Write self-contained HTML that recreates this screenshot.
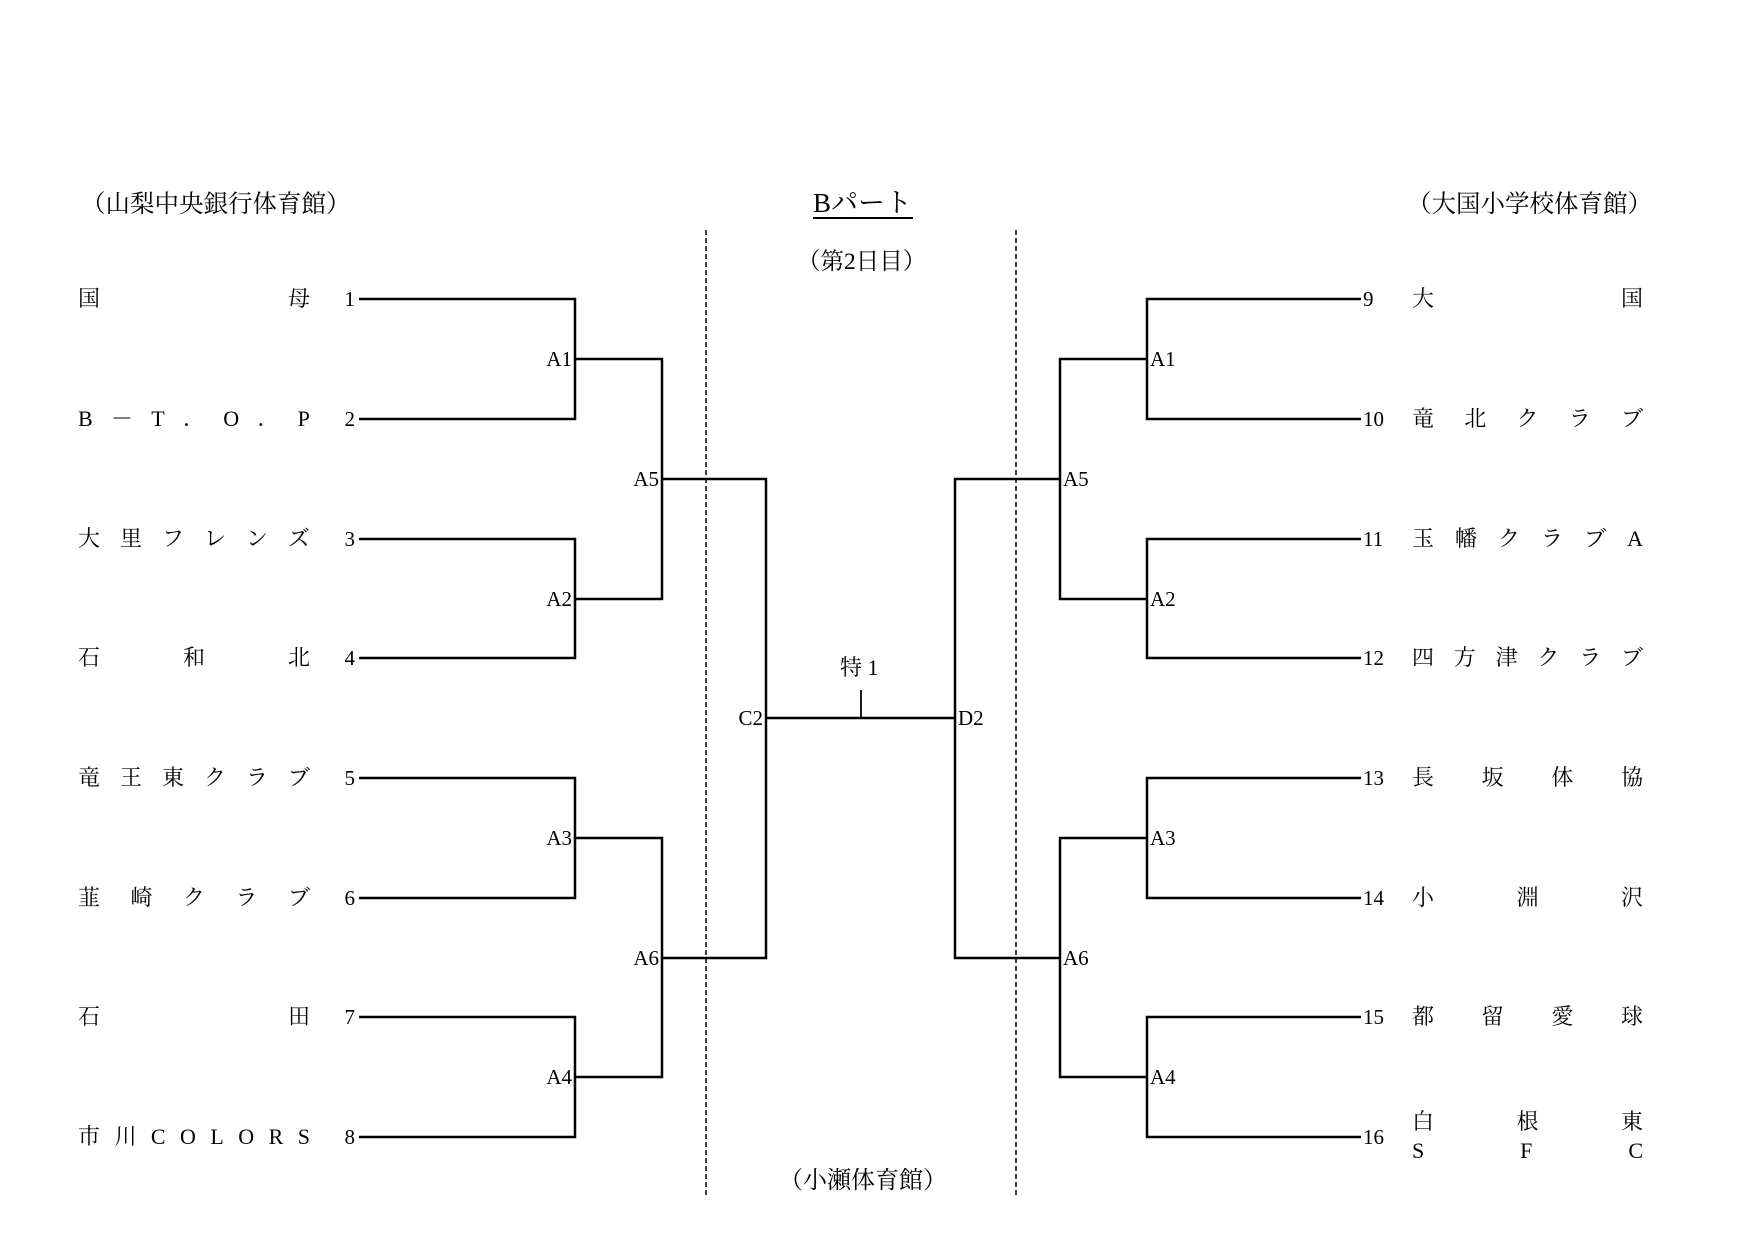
<!DOCTYPE html>
<html><head><meta charset="utf-8"><style>
body{margin:0;background:#fff;}
#w{position:relative;width:1755px;height:1241px;overflow:hidden;}
#c{position:absolute;left:-3px;top:-1px;width:1755px;height:1241px;font-family:"Liberation Serif","Noto Serif CJK JP",serif;color:#000;}
.t{position:absolute;font-size:21px;line-height:24px;white-space:nowrap;transform:translateY(-50%);}
.n{position:absolute;display:flex;justify-content:space-between;font-size:22px;line-height:24px;transform:translateY(-50%);}
.r{text-align:right;}
</style></head><body><div id="w"><div id="c">
<svg width="1755" height="1241" style="position:absolute;left:0;top:0">
<g stroke="#000" stroke-width="2.5" fill="none">
<line x1="709" y1="231" x2="709" y2="1196" stroke-width="1.5" stroke-dasharray="5,3"/>
<line x1="1019" y1="231" x2="1019" y2="1196" stroke-width="1.5" stroke-dasharray="5,3"/>
<polyline points="362,300 578,300 578,420 362,420"/>
<polyline points="362,540 578,540 578,659 362,659"/>
<polyline points="362,779 578,779 578,899 362,899"/>
<polyline points="362,1018 578,1018 578,1138 362,1138"/>
<polyline points="578,360 665,360 665,600 578,600"/>
<polyline points="578,839 665,839 665,1078 578,1078"/>
<polyline points="665,480 769,480 769,959 665,959"/>
<line x1="769" y1="719" x2="958" y2="719"/>
<line x1="864" y1="691" x2="864" y2="719" stroke-width="1.8"/>
<polyline points="1364,300 1150,300 1150,420 1364,420"/>
<polyline points="1364,540 1150,540 1150,659 1364,659"/>
<polyline points="1364,779 1150,779 1150,899 1364,899"/>
<polyline points="1364,1018 1150,1018 1150,1138 1364,1138"/>
<polyline points="1150,360 1063,360 1063,600 1150,600"/>
<polyline points="1150,839 1063,839 1063,1078 1150,1078"/>
<polyline points="1063,480 958,480 958,959 1063,959"/>
<line x1="816" y1="219" x2="916" y2="219" stroke-width="2"/>
</g></svg>

<div class="t" style="left:84px;top:206px;font-size:24.5px;line-height:28px">（山梨中央銀行体育館）</div>
<div class="t" style="left:816px;top:204px;font-size:27px;line-height:30px">Bパート</div>
<div class="t" style="left:800px;top:263px;font-size:23.5px;line-height:28px">（第2日目）</div>
<div class="t" style="left:1410px;top:206px;font-size:24.5px;line-height:28px">（大国小学校体育館）</div>
<div class="t" style="left:782px;top:1182px;font-size:24px;line-height:28px">（小瀬体育館）</div>

<div class="n" style="left:81px;width:232px;top:300px"><span>国</span><span>母</span></div>
<div class="n" style="left:81px;width:232px;top:420px"><span>B</span><span>－</span><span>T</span><span>．</span><span>O</span><span>．</span><span>P</span></div>
<div class="n" style="left:81px;width:232px;top:540px"><span>大</span><span>里</span><span>フ</span><span>レ</span><span>ン</span><span>ズ</span></div>
<div class="n" style="left:81px;width:232px;top:659px"><span>石</span><span>和</span><span>北</span></div>
<div class="n" style="left:81px;width:232px;top:779px"><span>竜</span><span>王</span><span>東</span><span>ク</span><span>ラ</span><span>ブ</span></div>
<div class="n" style="left:81px;width:232px;top:899px"><span>韮</span><span>崎</span><span>ク</span><span>ラ</span><span>ブ</span></div>
<div class="n" style="left:81px;width:232px;top:1018px"><span>石</span><span>田</span></div>
<div class="n" style="left:81px;width:232px;top:1138px"><span>市</span><span>川</span><span>C</span><span>O</span><span>L</span><span>O</span><span>R</span><span>S</span></div>

<div class="t r" style="left:330px;width:28px;top:300px">1</div>
<div class="t r" style="left:330px;width:28px;top:420px">2</div>
<div class="t r" style="left:330px;width:28px;top:540px">3</div>
<div class="t r" style="left:330px;width:28px;top:659px">4</div>
<div class="t r" style="left:330px;width:28px;top:779px">5</div>
<div class="t r" style="left:330px;width:28px;top:899px">6</div>
<div class="t r" style="left:330px;width:28px;top:1018px">7</div>
<div class="t r" style="left:330px;width:28px;top:1138px">8</div>

<div class="t r" style="left:530px;width:45px;top:360px">A1</div>
<div class="t r" style="left:530px;width:45px;top:600px">A2</div>
<div class="t r" style="left:530px;width:45px;top:839px">A3</div>
<div class="t r" style="left:530px;width:45px;top:1078px">A4</div>
<div class="t r" style="left:617px;width:45px;top:480px">A5</div>
<div class="t r" style="left:617px;width:45px;top:959px">A6</div>
<div class="t r" style="left:721px;width:45px;top:719px">C2</div>
<div class="t" style="left:961px;top:719px">D2</div>
<div class="t" style="left:843px;top:669px;font-size:22px">特 1</div>

<div class="t" style="left:1153px;top:360px">A1</div>
<div class="t" style="left:1153px;top:600px">A2</div>
<div class="t" style="left:1153px;top:839px">A3</div>
<div class="t" style="left:1153px;top:1078px">A4</div>
<div class="t" style="left:1066px;top:480px">A5</div>
<div class="t" style="left:1066px;top:959px">A6</div>

<div class="t" style="left:1366px;top:300px">9</div>
<div class="t" style="left:1366px;top:420px">10</div>
<div class="t" style="left:1366px;top:540px">11</div>
<div class="t" style="left:1366px;top:659px">12</div>
<div class="t" style="left:1366px;top:779px">13</div>
<div class="t" style="left:1366px;top:899px">14</div>
<div class="t" style="left:1366px;top:1018px">15</div>
<div class="t" style="left:1366px;top:1138px">16</div>

<div class="n" style="left:1415px;width:231px;top:300px"><span>大</span><span>国</span></div>
<div class="n" style="left:1415px;width:231px;top:420px"><span>竜</span><span>北</span><span>ク</span><span>ラ</span><span>ブ</span></div>
<div class="n" style="left:1415px;width:231px;top:540px"><span>玉</span><span>幡</span><span>ク</span><span>ラ</span><span>ブ</span><span>A</span></div>
<div class="n" style="left:1415px;width:231px;top:659px"><span>四</span><span>方</span><span>津</span><span>ク</span><span>ラ</span><span>ブ</span></div>
<div class="n" style="left:1415px;width:231px;top:779px"><span>長</span><span>坂</span><span>体</span><span>協</span></div>
<div class="n" style="left:1415px;width:231px;top:899px"><span>小</span><span>淵</span><span>沢</span></div>
<div class="n" style="left:1415px;width:231px;top:1018px"><span>都</span><span>留</span><span>愛</span><span>球</span></div>
<div class="n" style="left:1415px;width:231px;top:1123px"><span>白</span><span>根</span><span>東</span></div>
<div class="n" style="left:1415px;width:231px;top:1152px"><span>S</span><span>F</span><span>C</span></div>
</div></div></body></html>
